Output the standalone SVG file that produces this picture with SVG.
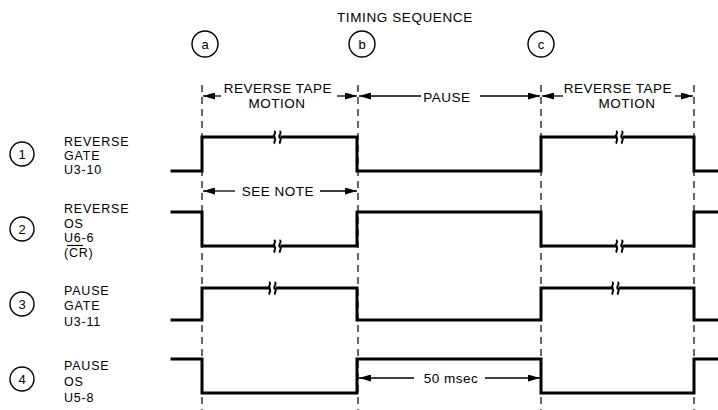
<svg xmlns="http://www.w3.org/2000/svg" width="718" height="410" viewBox="0 0 718 410">
<style>
text{font-family:"Liberation Sans",Arial,sans-serif;fill:#000}
.t{font-size:12.5px;letter-spacing:0.8px}
.ann{font-size:13.5px;letter-spacing:0.5px;text-anchor:middle}
.ttl{font-size:13.5px;letter-spacing:0.6px}
.num{font-size:13px;text-anchor:middle}
.circ{fill:none;stroke:#000;stroke-width:1.4}
.wave{fill:none;stroke:#000;stroke-width:3;stroke-linejoin:miter;stroke-linecap:square}
.dash{stroke:#000;stroke-width:1.2;stroke-dasharray:7,5;fill:none}
.arr{stroke:#000;stroke-width:1.3;fill:none}
.brk{fill:none;stroke:#000;stroke-width:1.9}
</style>
<defs>
<marker id="ah" markerUnits="userSpaceOnUse" markerWidth="12" markerHeight="7" refX="12" refY="3.5" orient="auto">
<path d="M0,0 L12,3.5 L0,7 Z" fill="#000"/>
</marker>
<g id="brk">
<rect x="-2.5" y="-3" width="5" height="6" fill="#fff"/>
<path class="brk" d="M-4,-6 C-0.5,-4.5 -6.5,-1 -3.5,1 C-1,3 -5.5,5 -3,6.5"/>
<path class="brk" d="M1.5,-6 C5,-4.5 -1,-1 2,1 C4.5,3 0,5 2.5,6.5"/>
</g>
</defs>

<g id="title">
<text class="ttl" x="337" y="22">TIMING SEQUENCE</text>
</g>

<g id="mark-a"><circle class="circ" cx="205" cy="44" r="13"/><text class="num" x="205" y="49">a</text></g>
<g id="mark-b"><circle class="circ" cx="362" cy="44" r="13"/><text class="num" x="362" y="49">b</text></g>
<g id="mark-c"><circle class="circ" cx="541" cy="44" r="13"/><text class="num" x="541" y="49">c</text></g>

<g id="connectors">
<line class="dash" x1="202" y1="85" x2="202" y2="410"/>
<line class="dash" x1="358" y1="85" x2="358" y2="410"/>
<line class="dash" x1="541" y1="85" x2="541" y2="410"/>
<line class="dash" x1="694" y1="85" x2="694" y2="410"/>
<line class="arr" x1="221" y1="96" x2="203" y2="96" marker-end="url(#ah)"/>
<line class="arr" x1="337" y1="96" x2="357" y2="96" marker-end="url(#ah)"/>
<line class="arr" x1="421" y1="96" x2="359" y2="96" marker-end="url(#ah)"/>
<line class="arr" x1="480" y1="96" x2="540" y2="96" marker-end="url(#ah)"/>
<line class="arr" x1="563" y1="96" x2="542" y2="96" marker-end="url(#ah)"/>
<line class="arr" x1="675" y1="96" x2="693" y2="96" marker-end="url(#ah)"/>
<line class="arr" x1="235" y1="191" x2="203" y2="191" marker-end="url(#ah)"/>
<line class="arr" x1="320" y1="191" x2="357" y2="191" marker-end="url(#ah)"/>
<line class="arr" x1="414" y1="378" x2="359" y2="378" marker-end="url(#ah)"/>
<line class="arr" x1="485" y1="378" x2="540" y2="378" marker-end="url(#ah)"/>
</g>

<g id="labels-top">
<text class="ann" x="278" y="93">REVERSE TAPE</text>
<text class="ann" x="277" y="108">MOTION</text>
<text class="ann" x="447" y="102">PAUSE</text>
<text class="ann" x="618" y="93">REVERSE TAPE</text>
<text class="ann" x="627" y="108">MOTION</text>
<text class="ann" x="278" y="196">SEE NOTE</text>
<text class="ann" x="451" y="383">50 msec</text>
</g>

<g id="signal-1">
<circle class="circ" cx="22" cy="154" r="12"/><text class="num" x="22" y="159">1</text>
<text class="t" x="64" y="146">REVERSE</text>
<text class="t" x="64" y="160">GATE</text>
<text class="t" x="64" y="174">U3-10</text>
<path class="wave" d="M172,171 H202 V137 H357 V171 H541 V137 H694 V171 H718"/>
<use href="#brk" x="278" y="137"/>
<use href="#brk" x="620" y="137"/>
</g>

<g id="signal-2">
<circle class="circ" cx="22" cy="229" r="12"/><text class="num" x="22" y="234">2</text>
<text class="t" x="64" y="213">REVERSE</text>
<text class="t" x="64" y="228">OS</text>
<text class="t" x="64" y="242">U6-6</text>
<line x1="67" y1="245.5" x2="83" y2="245.5" stroke="#000" stroke-width="1.2"/>
<text class="t" x="64" y="257">(CR)</text>
<path class="wave" d="M172,212 H202 V246 H357 V212 H541 V246 H694 V212 H718"/>
<use href="#brk" x="278" y="246"/>
<use href="#brk" x="620" y="246"/>
</g>

<g id="signal-3">
<circle class="circ" cx="22" cy="304" r="12"/><text class="num" x="22" y="309">3</text>
<text class="t" x="64" y="295">PAUSE</text>
<text class="t" x="64" y="310">GATE</text>
<text class="t" x="64" y="326">U3-11</text>
<path class="wave" d="M172,320 H202 V288 H357 V320 H541 V288 H694 V320 H718"/>
<use href="#brk" x="273" y="288"/>
<use href="#brk" x="616" y="288"/>
</g>

<g id="signal-4">
<circle class="circ" cx="22" cy="379" r="12"/><text class="num" x="22" y="384">4</text>
<text class="t" x="64" y="370">PAUSE</text>
<text class="t" x="64" y="386">OS</text>
<text class="t" x="64" y="402">U5-8</text>
<path class="wave" d="M172,359 H202 V393 H357 V359 H541 V393 H694 V359 H718"/>
</g>
</svg>
